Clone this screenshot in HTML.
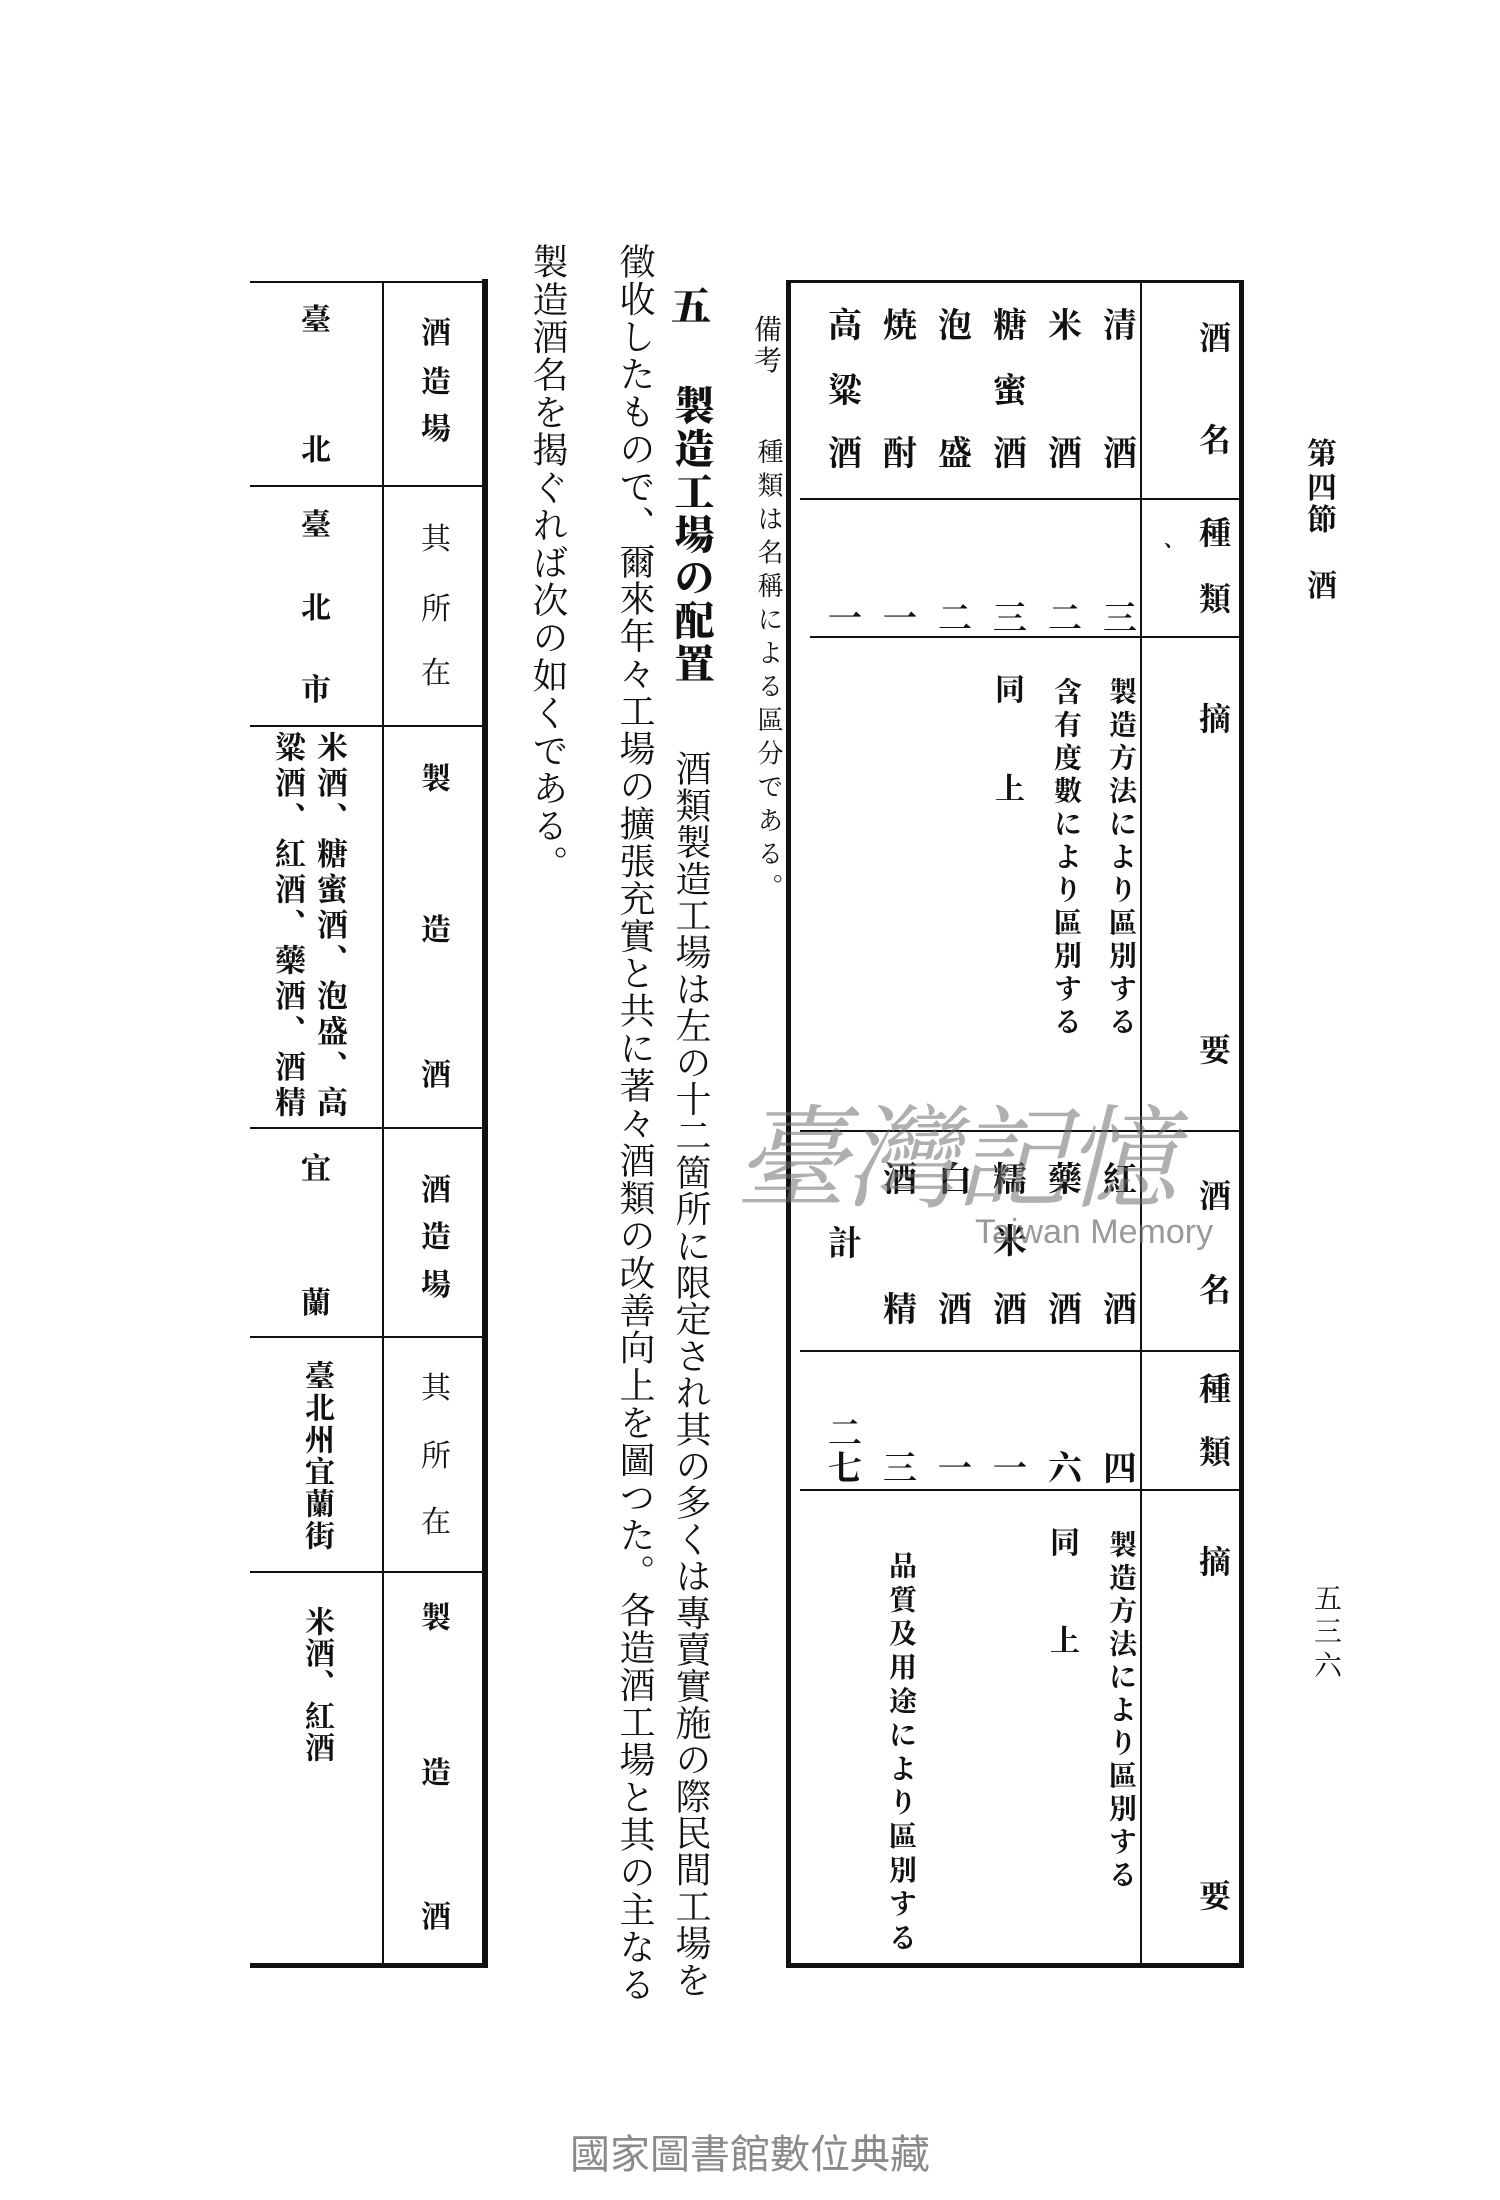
<!DOCTYPE html>
<html><head><meta charset="utf-8">
<style>
html,body{margin:0;padding:0;background:#fff;}
body{width:1500px;height:2200px;position:relative;overflow:hidden;font-family:"Liberation Serif","Noto Serif CJK SC","Noto Sans CJK JP",serif;color:#111;}
.l{position:absolute;background:#111;}
.c{position:absolute;transform:translate(-50%,-50%);font-weight:700;line-height:1;white-space:nowrap;}
.v{position:absolute;writing-mode:vertical-rl;line-height:1;white-space:nowrap;}
.b{font-weight:700;}
.s{font-size:34px;}
.h{font-size:32px;}
</style></head><body>

<!-- Right table lines -->
<div class="l" style="left:788px;top:280px;width:455px;height:3px"></div>
<div class="l" style="left:788px;top:1963px;width:456px;height:5px"></div>
<div class="l" style="left:786px;top:280px;width:5px;height:1688px"></div>
<div class="l" style="left:1239px;top:280px;width:5px;height:1688px"></div>
<div class="l" style="left:1140px;top:283px;width:2px;height:1682px"></div>
<div class="l" style="left:800px;top:498px;width:440px;height:2px"></div>
<div class="l" style="left:810px;top:636px;width:430px;height:2px"></div>
<div class="l" style="left:800px;top:1130px;width:440px;height:2px"></div>
<div class="l" style="left:800px;top:1350px;width:440px;height:2px"></div>
<div class="l" style="left:800px;top:1489px;width:440px;height:2px"></div>

<!-- Right table header column -->
<div class="c h" style="left:1215px;top:338px">酒</div>
<div class="c h" style="left:1215px;top:440px">名</div>
<div class="c h" style="left:1215px;top:533px">種</div>
<div class="c h" style="left:1215px;top:599px">類</div>
<div class="c h" style="left:1215px;top:719px">摘</div>
<div class="c h" style="left:1215px;top:1050px">要</div>
<div class="c h" style="left:1174px;top:540px;font-size:20px">、</div>
<div class="c h" style="left:1215px;top:1196px">酒</div>
<div class="c h" style="left:1215px;top:1290px">名</div>
<div class="c h" style="left:1215px;top:1389px">種</div>
<div class="c h" style="left:1215px;top:1452px">類</div>
<div class="c h" style="left:1215px;top:1562px">摘</div>
<div class="c h" style="left:1215px;top:1896px">要</div>

<!-- Top half names -->
<div class="c s" style="left:1120px;top:327px">清</div><div class="c s" style="left:1120px;top:455px">酒</div>
<div class="c s" style="left:1065px;top:327px">米</div><div class="c s" style="left:1065px;top:455px">酒</div>
<div class="c s" style="left:1010px;top:327px">糖</div><div class="c s" style="left:1010px;top:392px">蜜</div><div class="c s" style="left:1010px;top:455px">酒</div>
<div class="c s" style="left:955px;top:327px">泡</div><div class="c s" style="left:955px;top:455px">盛</div>
<div class="c s" style="left:900px;top:327px">焼</div><div class="c s" style="left:900px;top:455px">酎</div>
<div class="c s" style="left:845px;top:327px">高</div><div class="c s" style="left:845px;top:392px">粱</div><div class="c s" style="left:845px;top:455px">酒</div>
<!-- numbers -->
<div class="c s" style="left:1120px;top:620px">三</div>
<div class="c s" style="left:1065px;top:620px">二</div>
<div class="c s" style="left:1010px;top:620px">三</div>
<div class="c s" style="left:955px;top:620px">二</div>
<div class="c s" style="left:900px;top:620px">一</div>
<div class="c s" style="left:845px;top:620px">一</div>
<!-- summaries -->
<div class="v b" style="left:1106px;top:677px;font-size:28px;letter-spacing:5px">製造方法により區別する</div>
<div class="v b" style="left:1051px;top:677px;font-size:28px;letter-spacing:5px">含有度數により區別する</div>
<div class="c s" style="left:1010px;top:691px;font-size:30px">同</div>
<div class="c s" style="left:1010px;top:790px;font-size:30px">上</div>

<!-- Bottom half names -->
<div class="c s" style="left:1120px;top:1181px">紅</div><div class="c s" style="left:1120px;top:1311px">酒</div>
<div class="c s" style="left:1065px;top:1181px">藥</div><div class="c s" style="left:1065px;top:1311px">酒</div>
<div class="c s" style="left:1010px;top:1181px">糯</div><div class="c s" style="left:1010px;top:1243px">米</div><div class="c s" style="left:1010px;top:1311px">酒</div>
<div class="c s" style="left:955px;top:1181px">白</div><div class="c s" style="left:955px;top:1311px">酒</div>
<div class="c s" style="left:900px;top:1181px">酒</div><div class="c s" style="left:900px;top:1311px">精</div>
<div class="c s" style="left:845px;top:1245px">計</div>
<div class="c s" style="left:1120px;top:1470px">四</div>
<div class="c s" style="left:1065px;top:1470px">六</div>
<div class="c s" style="left:1010px;top:1470px">一</div>
<div class="c s" style="left:955px;top:1470px">一</div>
<div class="c s" style="left:900px;top:1470px">三</div>
<div class="c s" style="left:845px;top:1435px">二</div>
<div class="c s" style="left:845px;top:1470px">七</div>
<div class="v b" style="left:1106px;top:1530px;font-size:28px;letter-spacing:5px">製造方法により區別する</div>
<div class="c s" style="left:1065px;top:1544px;font-size:30px">同</div>
<div class="c s" style="left:1065px;top:1642px;font-size:30px">上</div>
<div class="v b" style="left:886px;top:1551px;font-size:28px;letter-spacing:5.8px">品質及用途により區別する</div>

<!-- Right margin -->
<div class="c" style="left:1322px;top:455px;font-size:30px">第</div>
<div class="c" style="left:1322px;top:489px;font-size:30px">四</div>
<div class="c" style="left:1322px;top:521px;font-size:30px">節</div>
<div class="c" style="left:1322px;top:587px;font-size:30px">酒</div>
<div class="c" style="left:1328px;top:1600px;font-size:28px;font-weight:400">五</div>
<div class="c" style="left:1328px;top:1633px;font-size:28px;font-weight:400">三</div>
<div class="c" style="left:1328px;top:1667px;font-size:28px;font-weight:400">六</div>

<!-- 備考 -->
<div class="c" style="left:768px;top:331px;font-size:28px;font-weight:400">備</div>
<div class="c" style="left:768px;top:362px;font-size:28px;font-weight:400">考</div>
<div class="v" style="left:755px;top:438px;font-size:26px;letter-spacing:7.5px">種類は名稱による區分である。</div>

<!-- body text -->
<div class="c" style="left:691px;top:307px;font-size:40px;font-weight:900">五</div>
<div class="v b" style="left:671px;top:385px;font-size:40px;letter-spacing:3px;font-weight:900">製造工場の配置</div>
<div class="v" style="left:673px;top:750px;font-size:36px;letter-spacing:0.7px">酒類製造工場は左の十二箇所に限定され其の多くは專賣實施の際民間工場を</div>
<div class="v" style="left:617px;top:243px;font-size:36px;letter-spacing:1.45px">徵收したもので、爾來年々工場の擴張充實と共に著々酒類の改善向上を圖つた。各造酒工場と其の主なる</div>
<div class="v" style="left:530px;top:243px;font-size:36px;letter-spacing:1.6px">製造酒名を揭ぐれば次の如くである。</div>

<!-- Left table lines -->
<div class="l" style="left:250px;top:281px;width:236px;height:2px"></div>
<div class="l" style="left:250px;top:1963px;width:238px;height:5px"></div>
<div class="l" style="left:482px;top:279px;width:6px;height:1689px"></div>
<div class="l" style="left:382px;top:283px;width:2px;height:1682px"></div>
<div class="l" style="left:250px;top:485px;width:232px;height:2px"></div>
<div class="l" style="left:250px;top:725px;width:232px;height:2px"></div>
<div class="l" style="left:250px;top:1127px;width:232px;height:2px"></div>
<div class="l" style="left:250px;top:1336px;width:232px;height:2px"></div>
<div class="l" style="left:250px;top:1571px;width:232px;height:2px"></div>

<!-- Left table right column -->
<div class="c h" style="left:436px;top:334px;font-size:30px">酒</div>
<div class="c h" style="left:436px;top:383px;font-size:30px">造</div>
<div class="c h" style="left:436px;top:430px;font-size:30px">場</div>
<div class="c h" style="left:436px;top:540px;font-size:30px;font-weight:400">其</div>
<div class="c h" style="left:436px;top:610px;font-size:30px;font-weight:400">所</div>
<div class="c h" style="left:436px;top:674px;font-size:30px;font-weight:400">在</div>
<div class="c h" style="left:436px;top:780px;font-size:30px">製</div>
<div class="c h" style="left:436px;top:931px;font-size:30px">造</div>
<div class="c h" style="left:436px;top:1076px;font-size:30px">酒</div>
<div class="c h" style="left:436px;top:1191px;font-size:30px">酒</div>
<div class="c h" style="left:436px;top:1238px;font-size:30px">造</div>
<div class="c h" style="left:436px;top:1286px;font-size:30px">場</div>
<div class="c h" style="left:436px;top:1389px;font-size:30px;font-weight:400">其</div>
<div class="c h" style="left:436px;top:1457px;font-size:30px;font-weight:400">所</div>
<div class="c h" style="left:436px;top:1523px;font-size:30px;font-weight:400">在</div>
<div class="c h" style="left:436px;top:1619px;font-size:30px">製</div>
<div class="c h" style="left:436px;top:1774px;font-size:30px">造</div>
<div class="c h" style="left:436px;top:1918px;font-size:30px">酒</div>

<!-- Left table left column -->
<div class="c h" style="left:316px;top:321px;font-size:30px">臺</div>
<div class="c h" style="left:316px;top:451px;font-size:30px">北</div>
<div class="c h" style="left:316px;top:526px;font-size:30px">臺</div>
<div class="c h" style="left:316px;top:609px;font-size:30px">北</div>
<div class="c h" style="left:316px;top:691px;font-size:30px">市</div>
<div class="v b" style="left:314px;top:731px;font-size:31px;letter-spacing:4.5px">米酒、糖蜜酒、泡盛、高</div>
<div class="v b" style="left:272px;top:731px;font-size:31px;letter-spacing:4.5px">粱酒、紅酒、藥酒、酒精</div>
<div class="c h" style="left:316px;top:1170px;font-size:30px">宜</div>
<div class="c h" style="left:316px;top:1304px;font-size:30px">蘭</div>
<div class="v b" style="left:301px;top:1360px;font-size:30px;letter-spacing:2px">臺北州宜蘭街</div>
<div class="v b" style="left:301px;top:1606px;font-size:30px;letter-spacing:1.5px">米酒、紅酒</div>

<!-- Watermark -->
<div style="position:absolute;left:735px;top:1095px;font-family:'Noto Serif CJK SC',serif;font-size:112px;color:rgba(110,110,110,0.55);letter-spacing:-2px;font-style:italic;white-space:nowrap;line-height:1">臺灣記憶</div>
<div style="position:absolute;left:975px;top:1215px;font-family:'Liberation Sans',sans-serif;font-size:34px;color:rgba(110,110,110,0.7);white-space:nowrap;line-height:1">Taiwan Memory</div>

<!-- Footer -->
<div style="position:absolute;left:550px;top:2135px;width:400px;text-align:center;font-family:'Liberation Sans','Noto Sans CJK TC',sans-serif;font-size:40px;color:#8a8a8a;white-space:nowrap;line-height:1">國家圖書館數位典藏</div>

</body></html>
